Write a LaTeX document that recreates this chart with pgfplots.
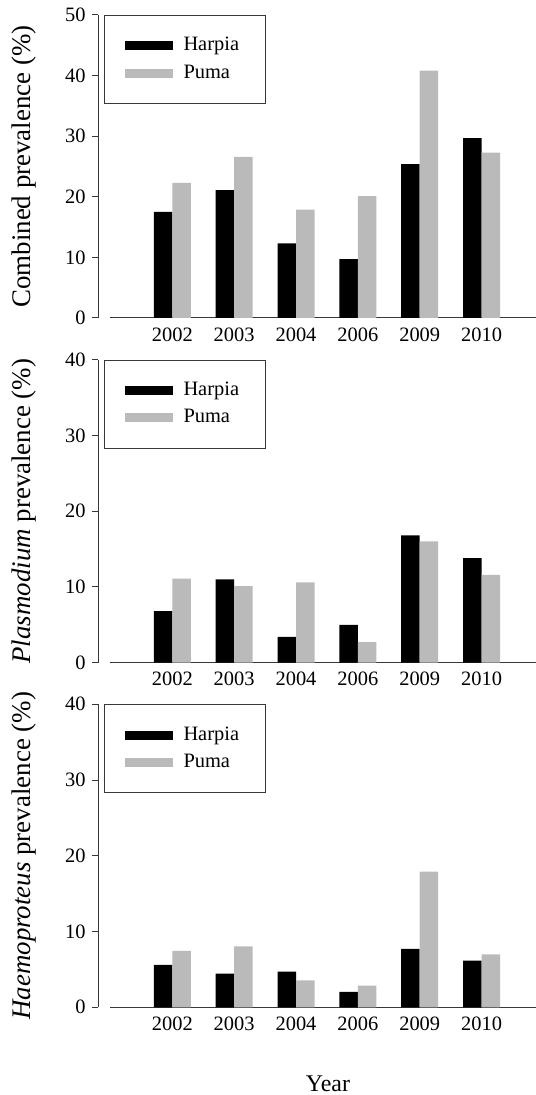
\documentclass[border=0pt]{standalone}
\usepackage{pgfplots}
\pgfplotsset{compat=1.18}
\usepackage{pgfplotstable}
\usepackage{fontspec}
\setmainfont{Liberation Serif}

\definecolor{pumagray}{gray}{0.73}
\definecolor{axisgray}{gray}{0.22}

% Prevalence (%) per sampling year; idx 0..5 = 2002, 2003, 2004, 2006, 2009, 2010
\pgfplotstableread{
idx Harpia Puma
0 17.5 22.3
1 21.1 26.6
2 12.3 17.9
3  9.7 20.1
4 25.4 40.8
5 29.7 27.3
}\combined

\pgfplotstableread{
idx Harpia Puma
0  6.8 11.1
1 11.0 10.1
2  3.4 10.6
3  5.0  2.7
4 16.8 16.0
5 13.8 11.6
}\plasmodium

\pgfplotstableread{
idx Harpia Puma
0 5.6 7.45
1 4.45 8.05
2 4.7 3.55
3 2.05 2.85
4 7.7 17.9
5 6.15 7.0
}\haemoproteus

\pgfplotsset{
  panel/.style={
    scale only axis,
    width=438bp, height=303bp,
    xmin=-1.201, xmax=5.88, ymin=0,
    axis lines*=left,
    % the baseline starts a little to the right of the value axis
    x axis line style={axisgray, line width=1bp, shorten <=12.4bp},
    y axis line style={axisgray, line width=1bp},
    xtick={0,...,5},
    xticklabels={2002,2003,2004,2006,2009,2010},
    major x tick style={draw=none},
    tick align=outside,
    major tick length=6bp,
    y tick style={axisgray, line width=1bp},
    tick label style={font=\fontsize{20.5}{24}\selectfont, text=black},
    yticklabel style={xshift=-3bp},
    /pgf/number format/assume math mode=true,
    label style={font=\fontsize{27}{32}\selectfont},
    ylabel style={at={(axis description cs:-0.169,0.5)}, anchor=center},
    ybar=0pt, bar width=18.5bp,
    clip=false,
    legend image code/.code={\fill[##1] (0bp,-4.5bp) rectangle (48bp,4.5bp);},
    legend cell align=left,
    legend style={
      at={(axis description cs:0.0137,1)}, anchor=north west,
      draw=axisgray, line width=1bp, fill=white,
      inner xsep=20bp, inner ysep=21.25bp,
      row sep=9.5bp, column sep=11bp,
      font=\fontsize{20.5}{24}\selectfont,
      nodes={inner sep=0pt, text height=14bp, text depth=4bp, text width=62bp},
    },
  },
  harpia/.style={fill=black, draw=none},
  puma/.style={fill=pumagray, draw=none},
}

\begin{document}
\begin{tikzpicture}
\useasboundingbox (0,0) rectangle (536bp,1095bp);

% Combined prevalence
\begin{axis}[panel, at={(98bp,777bp)}, anchor=south west,
  ymax=50, ytick={0,10,...,50},
  ylabel={Combined prevalence (\%)}]
  \addplot[harpia] table[x=idx, y=Harpia] {\combined};
  \addplot[puma] table[x=idx, y=Puma] {\combined};
  \legend{Harpia, Puma}
\end{axis}

% Plasmodium prevalence
\begin{axis}[panel, at={(98bp,432.3bp)}, anchor=south west,
  ymax=40, ytick={0,10,...,40},
  ylabel={\textit{Plasmodium} prevalence (\%)}]
  \addplot[harpia] table[x=idx, y=Harpia] {\plasmodium};
  \addplot[puma] table[x=idx, y=Puma] {\plasmodium};
  \legend{Harpia, Puma}
\end{axis}

% Haemoproteus prevalence
\begin{axis}[panel, at={(98bp,87.7bp)}, anchor=south west,
  ymax=40, ytick={0,10,...,40},
  ylabel={\textit{Haemoproteus} prevalence (\%)},
  xlabel={Year},
  xlabel style={at={(axis description cs:0.525,-0.251)}, anchor=center,
    font=\fontsize{24}{28}\selectfont}]
  \addplot[harpia] table[x=idx, y=Harpia] {\haemoproteus};
  \addplot[puma] table[x=idx, y=Puma] {\haemoproteus};
  \legend{Harpia, Puma}
\end{axis}
\end{tikzpicture}
\end{document}
